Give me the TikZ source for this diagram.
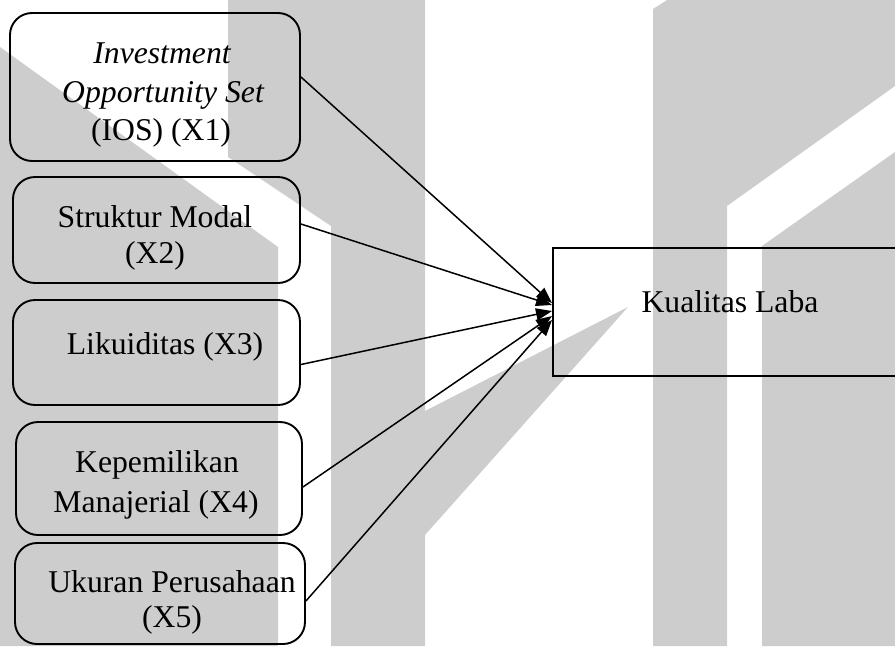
\documentclass[tikz,border=0pt]{standalone}
\usepackage{fontspec}
\setmainfont{Liberation Serif}
\usetikzlibrary{arrows.meta}
\definecolor{wm}{RGB}{205,205,205}
\tikzset{
  wmark/.style={fill=wm,draw=none},
  vbox/.style={draw=black,line width=1.9pt,rounded corners=22pt,inner sep=0pt},
  kbox/.style={draw=black,line width=1.9pt,inner sep=0pt},
  txt/.style={anchor=base,inner sep=0pt,font=\fontsize{31.7}{38}\selectfont},
  itxt/.style={txt,font=\fontsize{31.7}{38}\selectfont\itshape},
  link/.style={draw=black,line width=1.5pt,-{Triangle[length=16pt,width=12pt]}}
}
\begin{document}
\begin{tikzpicture}[x=1pt,y=-1pt]
\useasboundingbox (0,0) rectangle (895,646);
% watermark
\fill[wmark] (0,47) -- (278,247) -- (278,646) -- (0,646) -- cycle;
\fill[wmark] (228,0) -- (425,0) -- (425,411) -- (628,307) -- (425,535) -- (425,646) -- (331,646) -- (331,226) -- (228,157) -- cycle;
\fill[wmark] (653,9) -- (667,0) -- (895,0) -- (895,86) -- (727,206) -- (727,646) -- (653,646) -- cycle;
\fill[wmark] (762,246) -- (895,152) -- (895,646) -- (762,646) -- cycle;
% boxes
\node[vbox,minimum width=290pt,minimum height=148pt] (b1) at (155,87) {};
\node[vbox,minimum width=287pt,minimum height=106pt] (b2) at (156.5,230) {};
\node[vbox,minimum width=287pt,minimum height=105pt] (b3) at (156.5,352.5) {};
\node[vbox,minimum width=286pt,minimum height=113pt] (b4) at (159,478.5) {};
\node[vbox,minimum width=290pt,minimum height=101pt] (b5) at (160,593.5) {};
\node[kbox,anchor=west,minimum width=360pt,minimum height=128pt] (k) at (552,312) {};
% texts
\node[itxt] (t1a) at (162,63) {Investment};
\node[itxt] (t1b) at (163,102) {Opportunity Set};
\node[txt] (t1c) at (161,140) {(IOS) (X1)};
\node[txt] (t2a) at (155,227) {Struktur Modal};
\node[txt] (t2b) at (155,263) {(X2)};
\node[txt] (t3a) at (165,354) {Likuiditas (X3)};
\node[txt] (t4a) at (157,472) {Kepemilikan};
\node[txt] (t4b) at (156,512) {Manajerial (X4)};
\node[txt] (t5a) at (172,592) {Ukuran Perusahaan};
\node[txt] (t5b) at (172,627) {(X5)};
\node[txt] (tk) at (730,312) {Kualitas Laba};
% arrows
\draw[link] ([yshift=10pt]b1.east) -- ([yshift=9pt]k.west);
\draw[link] ([yshift=6pt]b2.east) -- ([yshift=7pt]k.west);
\draw[link] ([yshift=-12pt]b3.east) -- ([yshift=1pt]k.west);
\draw[link] ([yshift=-8.5pt]b4.east) -- ([yshift=-4pt]k.west);
\draw[link] ([yshift=-7.5pt]b5.east) -- ([yshift=-8pt]k.west);
\end{tikzpicture}
\end{document}
